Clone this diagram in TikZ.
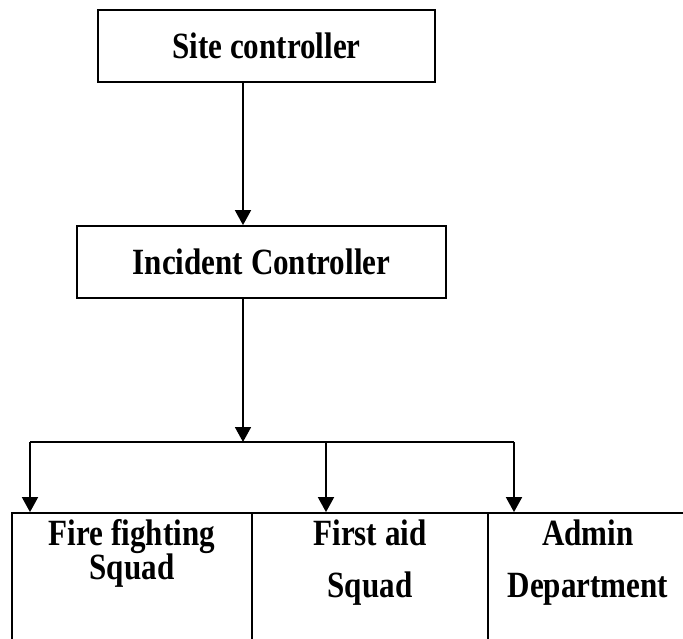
\documentclass[tikz,border=0pt]{standalone}
\usepackage{fontspec}
\setmainfont[FakeStretch=0.84]{Liberation Serif}
\usetikzlibrary{arrows.meta}

\begin{document}
\begin{tikzpicture}[x=1pt, y=-1pt, line width=1.8pt,
    box/.style={draw, minimum height=72pt, inner sep=0pt, font=\fontsize{37}{37}\selectfont\bfseries},
    cell/.style={draw, inner sep=0pt, minimum height=137pt},
    lbl/.style={inner sep=0pt, anchor=base, font=\fontsize{37}{37}\selectfont\bfseries},
    arr/.style={-{Triangle[width=16pt, length=15pt]}}]
		\useasboundingbox (0,0) rectangle (683,638);
		\clip (0,0) rectangle (683,638);
		\node[box, minimum width=337pt] (site) at (266.5,46) {Site controller};
		\node[box, minimum width=369pt] (inc) at (261.5,262) {Incident Controller};
		\node[cell, minimum width=240pt] (fire) at (132,581.5) {};
		\node[cell, minimum width=236pt] (aid) at (370,581.5) {};
		\node[cell, minimum width=200pt] (admin) at (588,581.5) {};
		\coordinate (split) at (243,442);
		\coordinate (bl) at (30,442);
		\coordinate (bm) at (326,442);
		\coordinate (br) at (514,442);
		\draw[arr] (site.south -| split) -- (inc.north -| split);
		\draw[arr] (inc.south -| split) -- (split);
		\draw (bl) -- (br);
		\draw[arr] (bl) -- (fire.north -| bl);
		\draw[arr] (bm) -- (aid.north -| bm);
		\draw[arr] (br) -- (admin.north -| br);
		\node[lbl] (fire1) at ([yshift=-33pt]fire.north) {Fire fighting};
		\node[lbl] (fire2) at ([yshift=-67pt]fire.north) {Squad};
		\node[lbl] (aid1) at ([yshift=-33pt]aid.north) {First aid};
		\node[lbl] (aid2) at ([yshift=-85pt]aid.north) {Squad};
		\node[lbl] (admin1) at ([yshift=-33pt]admin.north) {Admin};
		\node[lbl] (admin2) at ([yshift=-85pt]admin.north) {Department};
\end{tikzpicture}
\end{document}
